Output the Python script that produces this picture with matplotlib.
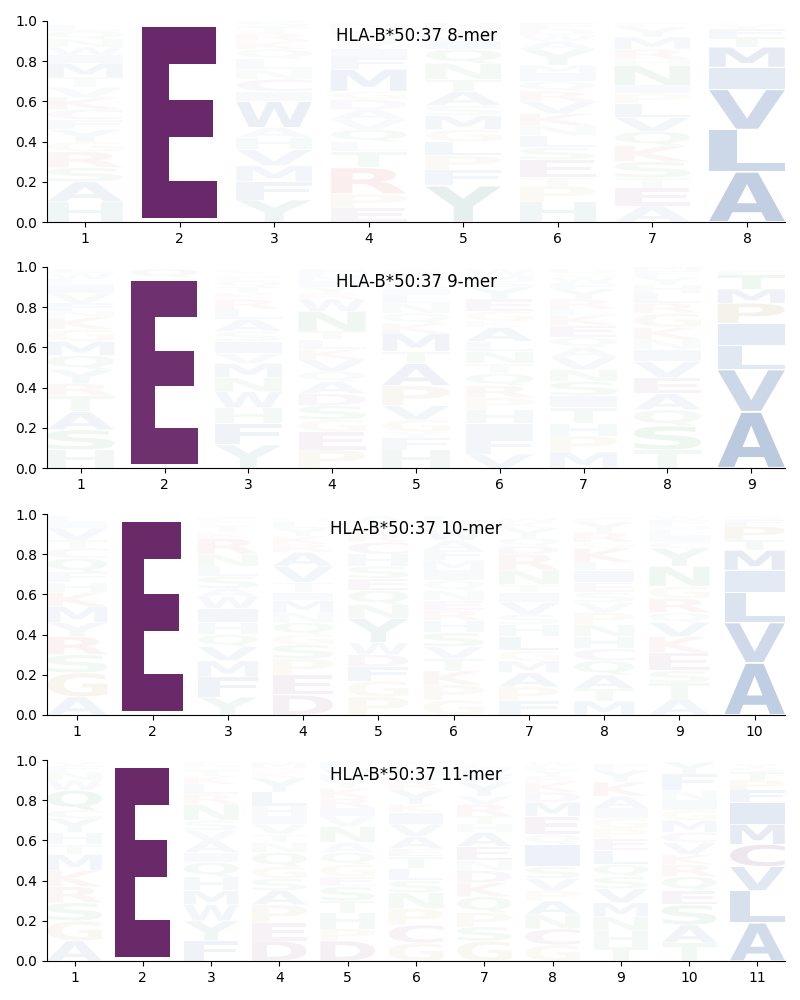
import matplotlib
matplotlib.use("Agg")
import matplotlib.pyplot as plt
from matplotlib.textpath import TextPath
from matplotlib.patches import PathPatch
from matplotlib.font_manager import FontProperties
from matplotlib.transforms import Affine2D

allele = "HLA-B*50:37"

# each position: letters from bottom to top, with their heights (frequencies)
mer8_letters = ["HASRGYFCKVTMIWNQL", "E", "YFMVHAWICNLQKRTS", "EPRTLQVADGMFIYWKN",
                "YFPLGMSATNQIWKH", "HPTESLNKVRQIMYAWDF", "AETSKQVLPINHRMYF", "ALVIMTFYS"]
mer8_heights = [[.10, .10, .07, .08, .05, .06, .05, .05, .06, .05, .05, .07, .04, .04, .04, .04, .03],
                [.99],
                [.11, .09, .08, .08, .06, .05, .13, .05, .06, .05, .05, .05, .04, .04, .03, .03],
                [.07, .07, .13, .08, .05, .06, .05, .05, .05, .04, .11, .06, .04, .04, .03, .03, .03],
                [.18, .08, .07, .07, .06, .07, .05, .07, .06, .08, .07, .04, .03, .03, .03],
                [.10, .08, .04, .09, .06, .06, .05, .06, .06, .05, .05, .04, .04, .08, .04, .03, .03, .03],
                [.08, .09, .05, .08, .08, .07, .07, .07, .05, .04, .10, .03, .05, .06, .05, .02],
                [.25, .21, .20, .11, .10, .05, .04, .02, .01]]

mer9_letters = ["HSATRYQMGKNFVILWE", "EQ", "YFHWNMVISALRKTQEGC", "PEGSDAQVKLTNWRYIMF",
                "HFYGVPATMKQNLISWER", "VFIHPRQTNLAKGEYSMW", "MPHTISNVAQEKLRYFWGD", "TSQAEVINKGRLHYFM",
                "AVLIPMTFS"]
mer9_heights = [[.09, .10, .09, .08, .06, .07, .07, .07, .06, .06, .03, .04, .05, .04, .03, .03, .02],
                [.95, .04],
                [.115, .105, .08, .08, .07, .07, .05, .06, .05, .06, .05, .05, .03, .03, .03, .02, .02, .02],
                [.09, .09, .06, .07, .06, .06, .05, .06, .05, .05, .04, .10, .06, .03, .03, .03, .03, .03],
                [.09, .06, .03, .06, .07, .10, .11, .06, .09, .05, .05, .05, .04, .03, .03, .03, .02, .02],
                [.07, .08, .07, .07, .06, .06, .06, .05, .06, .05, .07, .03, .05, .06, .06, .03, .03, .03],
                [.08, .08, .06, .08, .06, .07, .06, .06, .05, .05, .06, .05, .03, .05, .05, .03, .03, .02, .02],
                [.09, .12, .08, .08, .08, .08, .06, .05, .06, .07, .05, .05, .04, .04, .03, .03],
                [.28, .21, .12, .11, .10, .07, .07, .02, .01]]

mer10_letters = ["AGSRYMKHFQCTVIL", "E", "YFMVQHIWASLNRKTGEC", "DEPSGQNMITVARKYLH",
                 "PGFDWYNQESHCRKTA", "GPKTVSHRENQIMFAWYL", "FPAMGLHSVITNRDQYKW", "MTAQCHNPVSEILKGRYF",
                 "ATSEKVQRGNYCILMFW", "AVLIMTPFS"]
mer10_heights = [[.09, .12, .09, .09, .07, .08, .07, .05, .05, .07, .05, .04, .06, .03, .03],
                 [.98],
                 [.09, .10, .08, .07, .06, .06, .07, .06, .04, .06, .05, .06, .08, .03, .03, .02, .02, .01],
                 [.10, .10, .08, .07, .05, .06, .05, .06, .04, .05, .08, .07, .04, .04, .04, .03, .02],
                 [.09, .08, .07, .06, .06, .12, .07, .07, .06, .06, .06, .06, .04, .03, .03, .03],
                 [.075, .075, .07, .06, .06, .07, .06, .05, .05, .05, .05, .05, .05, .05, .05, .06, .03, .03],
                 [.07, .07, .07, .06, .05, .07, .06, .05, .06, .05, .04, .07, .08, .04, .04, .05, .03, .02],
                 [.07, .06, .07, .07, .06, .06, .06, .06, .05, .05, .05, .06, .04, .07, .03, .05, .05, .02],
                 [.08, .08, .06, .09, .08, .07, .05, .07, .06, .10, .09, .03, .03, .03, .02, .03, .02],
                 [.26, .20, .15, .11, .10, .05, .07, .03, .02]]

mer11_letters = ["AGSRKMTHYCQWNFV", "E", "FYWMHQIAVSNRLKTGE", "DEPASGQNTVIHLYKRM",
                 "DPHTSEGQANVIRKYLWF", "GCPNSLTEAVIKYRQHMW", "GSPQKDNEAHTRVYFWL", "GCNAPVSIQEMDKRYLW",
                 "THNMVSQLEPGIAKYF", "TASEQRKVCMGINFY", "ALVCMIFPTSY"]
mer11_heights = [[.10, .10, .09, .08, .08, .08, .05, .06, .07, .04, .10, .05, .04, .03, .02],
                 [.98],
                 [.10, .10, .08, .07, .07, .07, .05, .06, .05, .05, .08, .05, .05, .04, .03, .02, .02],
                 [.10, .09, .09, .07, .06, .06, .07, .05, .04, .05, .04, .05, .07, .07, .03, .02, .03],
                 [.10, .06, .08, .06, .07, .05, .06, .06, .05, .08, .05, .04, .05, .05, .04, .03, .03, .03],
                 [.09, .09, .08, .08, .06, .06, .06, .04, .06, .06, .06, .04, .07, .04, .03, .02, .03, .02],
                 [.10, .07, .07, .08, .07, .06, .05, .07, .07, .04, .04, .06, .04, .07, .04, .03, .02],
                 [.08, .08, .07, .07, .05, .06, .06, .11, .05, .09, .07, .05, .05, .03, .03, .02, .02],
                 [.07, .08, .07, .07, .07, .06, .06, .07, .06, .05, .05, .05, .06, .07, .06, .03],
                 [.09, .09, .10, .07, .07, .06, .05, .06, .05, .06, .05, .05, .05, .08, .06],
                 [.19, .16, .12, .11, .10, .11, .06, .05, .04, .02, .02]]

# anchor positions (2 and the C-terminus) are drawn at full strength
anchor_fade = 1.0
other_fade = 0.65

panels = [("8-mer", mer8_letters, mer8_heights),
          ("9-mer", mer9_letters, mer9_heights),
          ("10-mer", mer10_letters, mer10_heights),
          ("11-mer", mer11_letters, mer11_heights)]

color_map = {}
for aa in "AVLIMFW":
    color_map[aa] = "#0f4393"
for aa in "HY":
    color_map[aa] = "#2a7a74"
for aa in "STNQ":
    color_map[aa] = "#2a9040"
for aa in "KR":
    color_map[aa] = "#c83c3c"
for aa in "DEC":
    color_map[aa] = "#672567"
for aa in "GP":
    color_map[aa] = "#a08c30"

letter_font = FontProperties(family="DejaVu Sans", weight="bold")


def draw_letter(ax, letter, x, y, width, height, color, alpha):
    tp = TextPath((0, 0), letter, size=1, prop=letter_font)
    bb = tp.get_extents()
    t = Affine2D().translate(-bb.x0, -bb.y0).scale(width / bb.width, height / bb.height)
    t = t.translate(x - width / 2.0, y)
    ax.add_patch(PathPatch(t.transform_path(tp), facecolor=color, edgecolor="none",
                           linewidth=0, alpha=alpha))


def draw_logo(ax, letters, heights, title):
    n = len(letters)
    for pos, (stack, stack_heights) in enumerate(zip(letters, heights), start=1):
        fade = anchor_fade if pos in (2, n) else other_fade
        bottom = 0.0
        for letter, h in zip(stack, stack_heights):
            pad = h * 0.04
            draw_letter(ax, letter, pos, bottom + pad / 2.0, 0.8, h - pad,
                        color_map[letter], min(1.0, h * fade))
            bottom += h
    ax.set_xlim(0.6, n + 0.4)
    ax.set_ylim(0, 1)
    ax.set_xticks(range(1, n + 1))
    ax.set_yticks([0.0, 0.2, 0.4, 0.6, 0.8, 1.0])
    ax.spines["top"].set_visible(False)
    ax.spines["right"].set_visible(False)
    ax.text(0.5, 0.925, title, transform=ax.transAxes, ha="center", va="center", fontsize=12)


fig = plt.figure(figsize=(8, 10), dpi=100, facecolor="w")
bottoms = [0.778, 0.532, 0.285, 0.039]
for (length, letters, heights), b in zip(panels, bottoms):
    ax = fig.add_axes([0.059, b, 0.922, 0.201])
    draw_logo(ax, letters, heights, "%s %s" % (allele, length))

plt.savefig("out.png")
plt.close(fig)
